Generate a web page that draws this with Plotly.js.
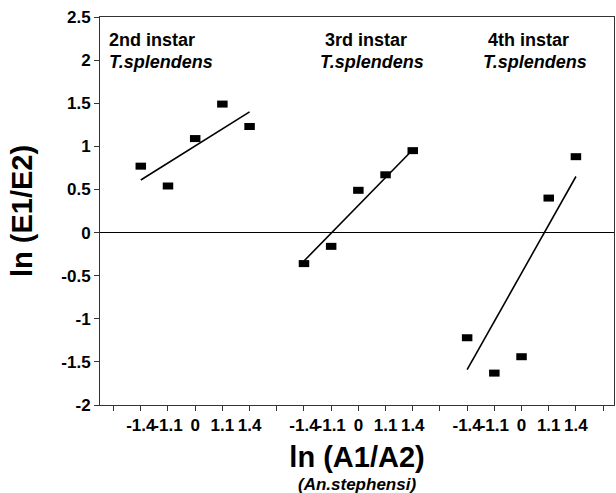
<!DOCTYPE html>
<html>
<head>
<meta charset="utf-8">
<script src="https://cdn.plot.ly/plotly-3.0.1.min.js"></script>
<style>html,body{margin:0;padding:0;background:#fff;}#chart{width:616px;height:493px;}</style>
</head>
<body>
<div id="chart"></div>
<script>
// x categories within each instar group (ln(A1/A2) of An.stephensi)
const xLabels = ["-1.4", "-1.1", "0", "1.1", "1.4"];
const groupNames = ["2nd instar", "3rd instar", "4th instar"];
const species = "T.splendens";
// ln(E1/E2) values
const y2nd = [0.77, 0.54, 1.09, 1.49, 1.23];
const y3rd = [-0.36, -0.16, 0.49, 0.67, 0.95];
const y4th = [-1.22, -1.63, -1.44, 0.40, 0.88];
// fitted line end values (at -1.4 and 1.4)
const fit2nd = [0.61, 1.40];
const fit3rd = [-0.33, 0.96];
const fit4th = [-1.59, 0.65];
// y tick labels
const yTickVals = [-2, -1.5, -1, -0.5, 0, 0.5, 1, 1.5, 2, 2.5];
const yTickText = ["-2", "-1.5", "-1", "-0.5", "0", "0.5", "1", "1.5", "2", "2.5"];

const series = [y2nd, y3rd, y4th];
const fits = [fit2nd, fit3rd, fit4th];
const slotsPerGroup = xLabels.length + 1;

const FONT = "Liberation Sans, Arial, Helvetica, sans-serif";
const traces = [];
const tickvals = [], ticktext = [];
for (let k = 0; k <= slotsPerGroup * series.length; k++) { tickvals.push(k); ticktext.push(""); }

series.forEach((ys, g) => {
  const xs = ys.map((_, i) => g * slotsPerGroup + 1 + i);
  xs.forEach((x, i) => { ticktext[x] = xLabels[i]; });
  traces.push({
    x: [xs[0], xs[xs.length - 1]], y: fits[g], type: "scatter", mode: "lines",
    line: {color: "#000", width: 1.6}, showlegend: false, hoverinfo: "skip"
  });
  traces.push({
    x: xs, y: ys, type: "scatter", mode: "markers", name: groupNames[g],
    marker: {symbol: "line-ew", size: 7.5, color: "#000", line: {width: 7, color: "#000"}},
    showlegend: false, hoverinfo: "x+y"
  });
});

const annX = [0.0136, 0.424, 0.741];
const annotations = [];
groupNames.forEach((name, g) => {
  annotations.push({text: "<b>" + name + "</b>", xref: "paper", yref: "paper",
    x: annX[g] + (g === 0 ? 0 : 0.01), y: 0.941, xanchor: "left", yanchor: "middle",
    showarrow: false, font: {family: FONT, size: 18, color: "#000"}});
  annotations.push({text: "<b><i>" + species + "</i></b>", xref: "paper", yref: "paper",
    x: annX[g], y: 0.884, xanchor: "left", yanchor: "middle",
    showarrow: false, font: {family: FONT, size: 18, color: "#000"}});
});
annotations.push({text: "<b><i>(An.stephensi)</i></b>", xref: "paper", yref: "paper",
  x: 0.5, y: -0.205, xanchor: "center", yanchor: "middle",
  showarrow: false, font: {family: FONT, size: 17, color: "#000"}});

const layout = {
  width: 616, height: 493,
  margin: {l: 100, r: 2, t: 17, b: 88},
  paper_bgcolor: "#fff", plot_bgcolor: "#fff",
  font: {family: FONT, color: "#000"},
  showlegend: false,
  xaxis: {
    range: [-0.5, 18.4], tickvals: tickvals, ticktext: ticktext, tickangle: 0,
    ticks: "outside", ticklen: 5, tickcolor: "#333", tickwidth: 1,
    showline: true, linecolor: "#333", linewidth: 1, mirror: true,
    showgrid: false, zeroline: false,
    tickfont: {family: FONT, size: 17, weight: "bold", color: "#000"},
    title: {text: "<b>ln (A1/A2)</b>", font: {family: FONT, size: 29, color: "#000"}, standoff: 12}
  },
  yaxis: {
    range: [-2, 2.5], tickvals: yTickVals, ticktext: yTickText,
    ticks: "outside", ticklen: 5, tickcolor: "#333", tickwidth: 1,
    showline: true, linecolor: "#333", linewidth: 1, mirror: true,
    showgrid: false, zeroline: true, zerolinecolor: "#000", zerolinewidth: 1,
    tickfont: {family: FONT, size: 17, weight: "bold", color: "#000"},
    title: {text: "<b>ln (E1/E2)</b>", font: {family: FONT, size: 29, color: "#000"}}
  },
  annotations: annotations
};

Plotly.newPlot("chart", traces, layout, {staticPlot: true, displayModeBar: false});
</script>
</body>
</html>
